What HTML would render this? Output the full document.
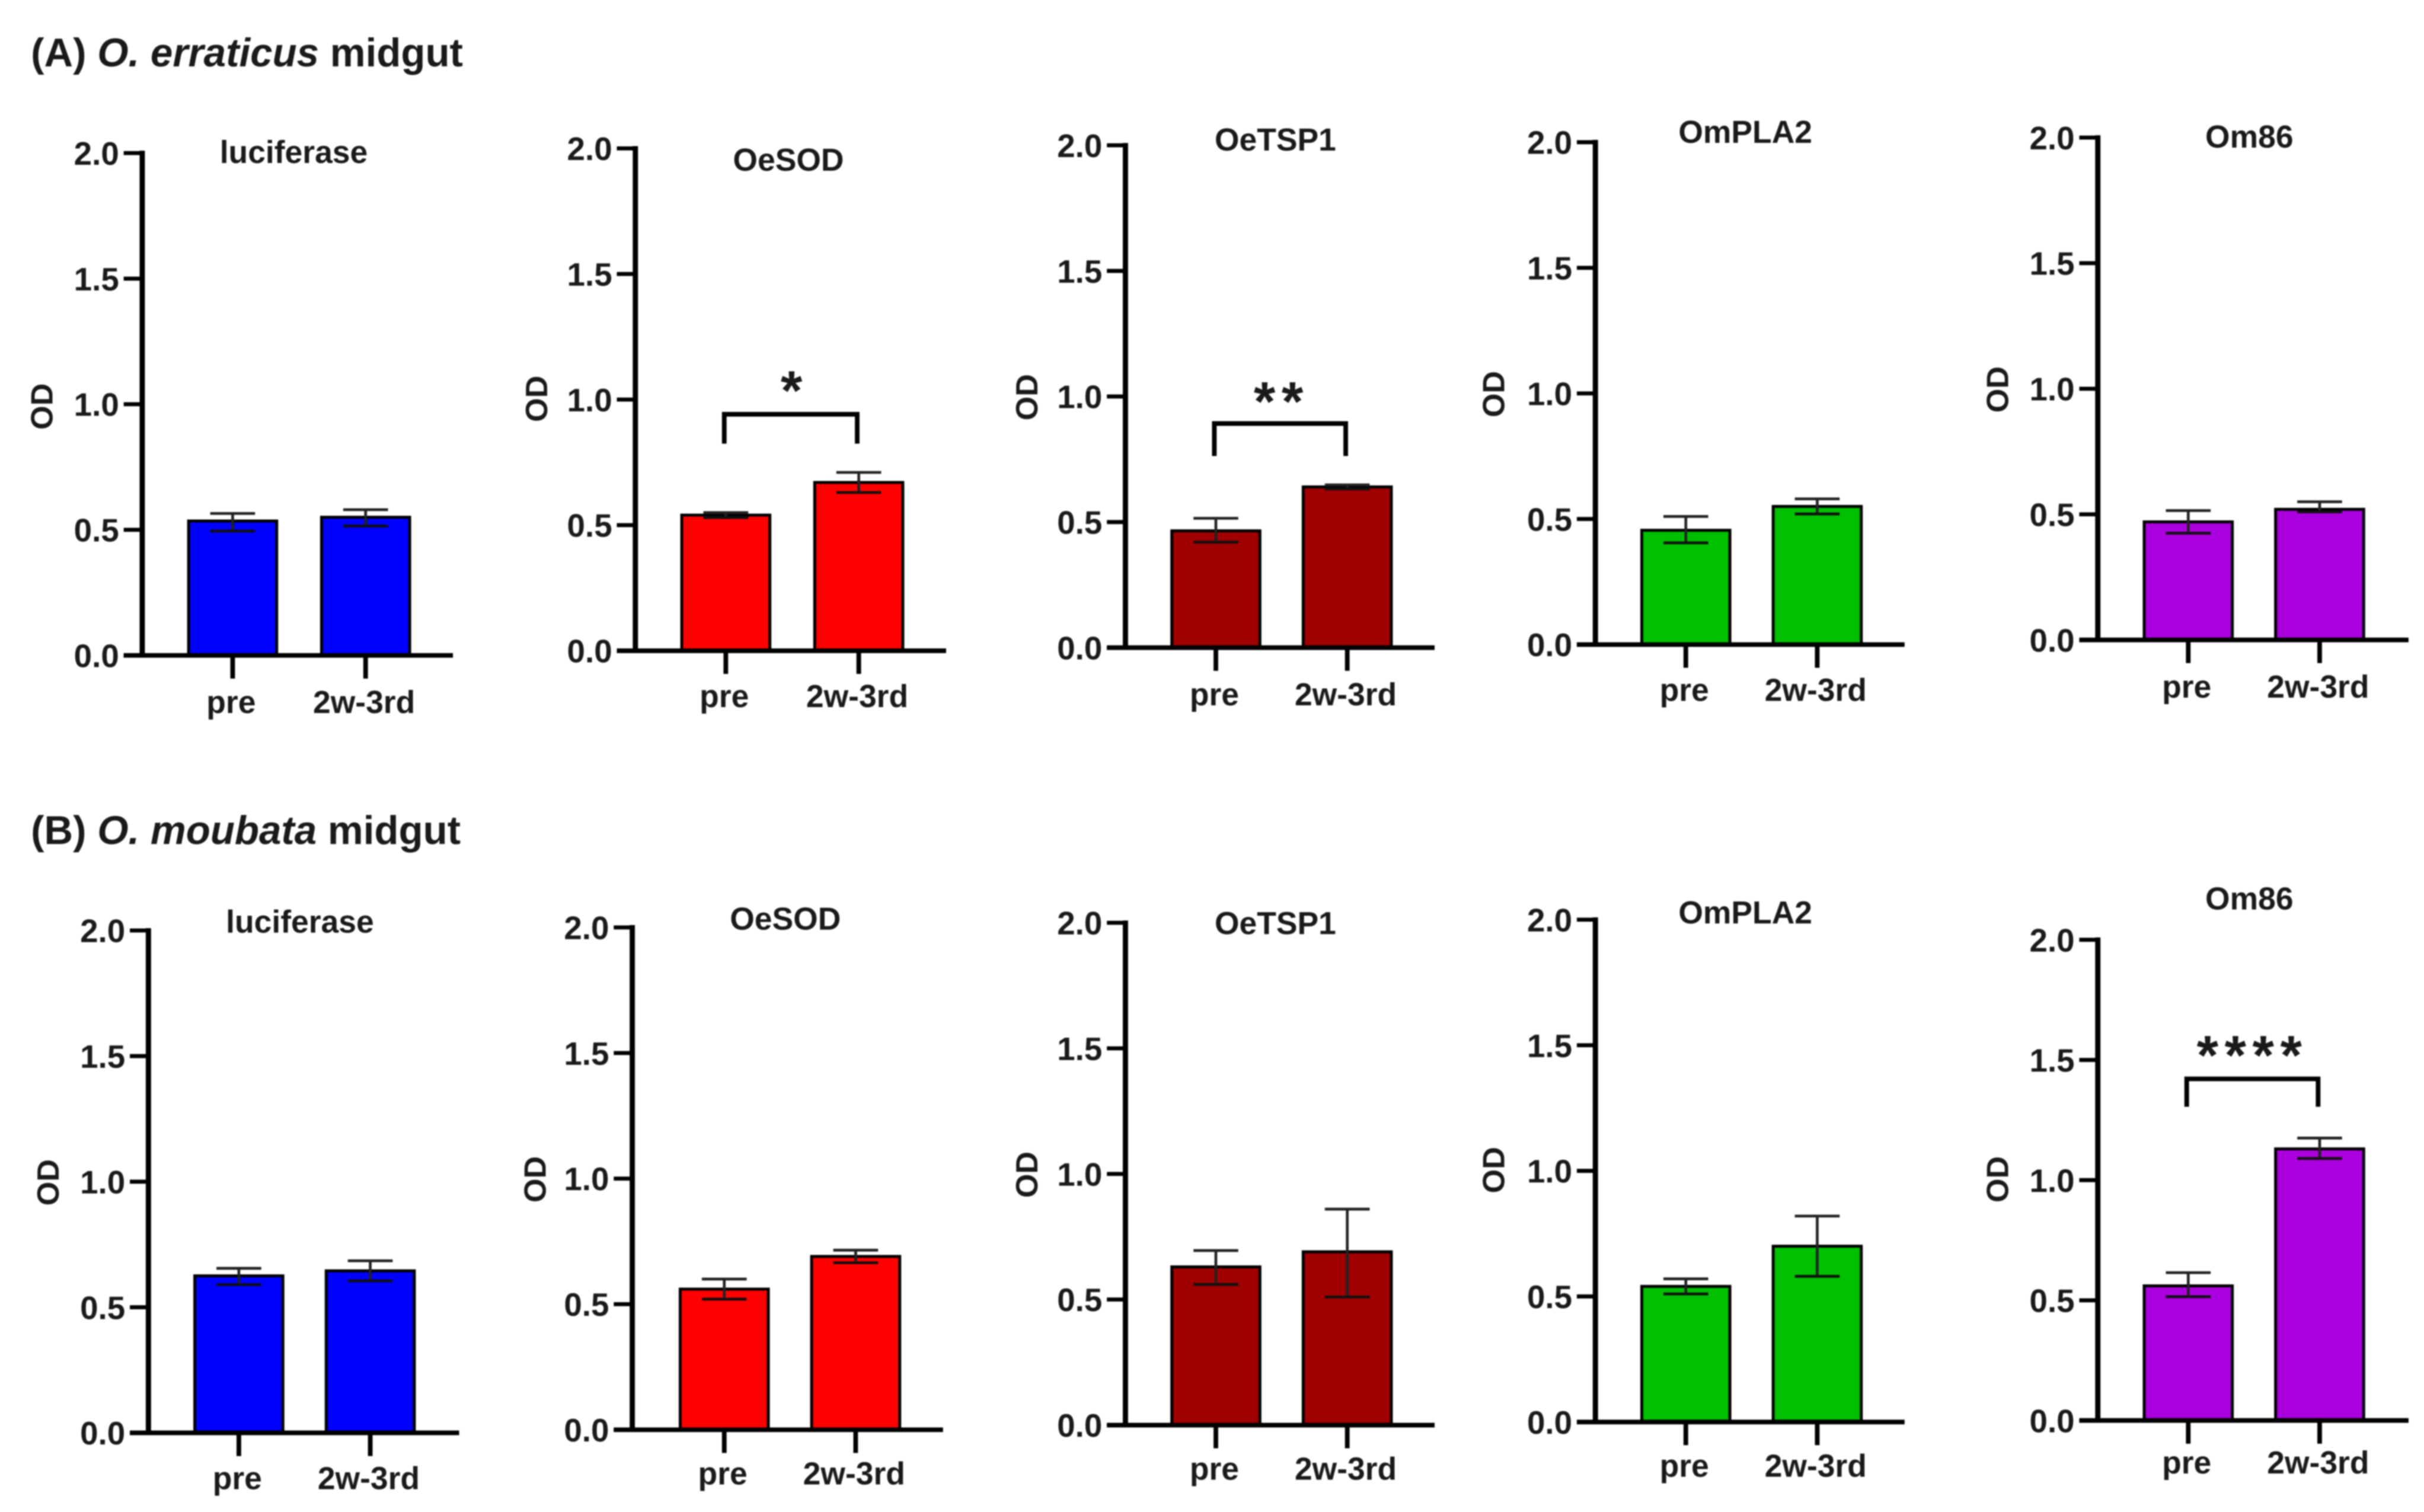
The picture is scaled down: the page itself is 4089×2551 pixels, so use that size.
<!DOCTYPE html>
<html lang="en">
<head>
<meta charset="utf-8">
<title>O. erraticus and O. moubata midgut OD charts</title>
<style>
html,body{margin:0;padding:0;background:#fff;width:4089px;height:2551px;overflow:hidden}
svg{display:block;filter:blur(1px)}
text{font-family:"Liberation Sans",sans-serif;font-weight:bold;fill:#1a1a1a}
</style>
</head>
<body>
<svg id="figure" xmlns="http://www.w3.org/2000/svg" width="4089" height="2551" viewBox="0 0 1568 978.2">
  <rect width="1568" height="978.2" fill="#fff"/>
  <text x="20" y="43" font-size="25.8" fill="#1a1a1a">(A) <tspan font-style="italic">O. erraticus</tspan> midgut</text>
  <text x="20" y="546" font-size="25.8" fill="#1a1a1a">(B) <tspan font-style="italic">O. moubata</tspan> midgut</text>
</svg>
<script>
// Data
const categories = ['pre', '2w-3rd'];
const yTickValues = [0, 0.5, 1, 1.5, 2];
const yTickLabels = ['0.0', '0.5', '1.0', '1.5', '2.0'];
const yMax = 2;
const panelTitles = ['luciferase', 'OeSOD', 'OeTSP1', 'OmPLA2', 'Om86',
                     'luciferase', 'OeSOD', 'OeTSP1', 'OmPLA2', 'Om86'];
const barValues = [[0.535, 0.55], [0.54, 0.67], [0.465, 0.64], [0.455, 0.55], [0.47, 0.52],
                   [0.625, 0.645], [0.56, 0.69], [0.63, 0.69], [0.54, 0.70], [0.56, 1.13]];
const errorUp = [[0.03, 0.03], [0.01, 0.04], [0.05, 0.008], [0.055, 0.03], [0.045, 0.03],
                 [0.03, 0.04], [0.04, 0.025], [0.065, 0.17], [0.03, 0.12], [0.055, 0.045]];
const errorDown = [[0.04, 0.035], [0.01, 0.04], [0.045, 0.008], [0.05, 0.03], [0.045, 0.01],
                   [0.035, 0.04], [0.04, 0.025], [0.07, 0.18], [0.03, 0.12], [0.045, 0.04]];
const significance = ['', '*', '**', '', '', '', '', '', '', '****'];
const barColors = ['#0000ff', '#ff0000', '#a00000', '#00c000', '#aa00dd'];

// Panel frame geometry: plot origin, axis extents, label offsets
const frames = [
  {ax:92, top:99, base:424, bar0:122, bar1:208, end:293, title:190, titleY:98, catY:454, odX:27, odY:263, br:268, brD:287, starX:512, starY:248},
  {ax:411, top:96, base:421, bar0:441, bar1:527, end:612, title:510, titleY:103, catY:450, odX:347, odY:258, br:268, brD:287, starX:512, starY:246},
  {ax:728, top:94, base:419, bar0:758, bar1:843, end:928, title:825, titleY:90, catY:449, odX:664, odY:257, br:274, brD:295, starX:829, starY:253},
  {ax:1032, top:92, base:417, bar0:1062, bar1:1147, end:1232, title:1129, titleY:85, catY:446, odX:966, odY:255},
  {ax:1357, top:89, base:414, bar0:1387, bar1:1472, end:1558, title:1455, titleY:88, catY:444, odX:1292, odY:252},
  {ax:96, top:602, base:927, bar0:126, bar1:211, end:297, title:194, titleY:596, catY:956, odX:31, odY:765},
  {ax:409, top:600, base:925, bar0:440, bar1:525, end:610, title:508, titleY:594, catY:953, odX:346, odY:763},
  {ax:728, top:597, base:922, bar0:758, bar1:843, end:928, title:825, titleY:597, catY:950, odX:664, odY:760},
  {ax:1032, top:595, base:920, bar0:1062, bar1:1147, end:1232, title:1129, titleY:590, catY:948, odX:966, odY:757},
  {ax:1357, top:608, base:919, bar0:1387, bar1:1472, end:1558, title:1455, titleY:581, catY:946, odX:1292, odY:763, br:698, brD:716, starX:1457, starY:676}
];
const BAR_W = 57, CAP_W = 29;

const svg = document.getElementById('figure');
const NS = 'http://www.w3.org/2000/svg';
function add(parent, tag, attrs, txt) {
  const el = document.createElementNS(NS, tag);
  for (const k in attrs) el.setAttribute(k, attrs[k]);
  if (txt !== undefined) el.textContent = txt;
  parent.appendChild(el);
  return el;
}
function textBox(parent, x, y, size, anchor, txt, extra) {
  return add(parent, 'text', Object.assign({x: x, y: y + size * 0.36, 'font-size': size, 'text-anchor': anchor}, extra || {}), txt);
}

frames.forEach(function (f, p) {
  const yScale = function (v) { return f.base - (v / yMax) * (f.base - f.top); };
  const color = barColors[p % 5];
  const g = add(svg, 'g', {});
  
  

  // bars + error bars
  categories.forEach(function (cat, i) {
    const bx = i === 0 ? f.bar0 : f.bar1;
    const cx = bx + BAR_W / 2;
    const v = barValues[p][i];
    const bar = add(g, 'rect', {x: bx, y: yScale(v), width: BAR_W, height: f.base - yScale(v), fill: color, stroke: '#000', 'stroke-width': 1.9});
    
    
    const hi = yScale(v + errorUp[p][i]);
    const lo = yScale(v - errorDown[p][i]);
    const stem = add(g, 'line', {x1: cx, x2: cx, y1: hi, y2: lo, stroke: '#222', 'stroke-width': 1.8});
    
    
    const capTop = add(g, 'line', {x1: cx - CAP_W / 2, x2: cx + CAP_W / 2, y1: hi, y2: hi, stroke: '#222', 'stroke-width': 1.8});
    
    
    const capBot = add(g, 'line', {x1: cx - CAP_W / 2, x2: cx + CAP_W / 2, y1: lo, y2: lo, stroke: '#111', 'stroke-width': 1.8});
    
    

    const tick = add(g, 'line', {x1: cx, x2: cx, y1: f.base, y2: f.base + 15, stroke: '#000', 'stroke-width': 3});
    
    
    const lab = textBox(g, cx - 1, f.catY, 20.5, 'middle', cat);
    
    
  });

  // axes
  const yAxis = add(g, 'line', {x1: f.ax, x2: f.ax, y1: f.top - 1.5, y2: f.base, stroke: '#000', 'stroke-width': 3.4});
  
  
  const xAxis = add(g, 'line', {x1: f.ax - 12, x2: f.end, y1: f.base, y2: f.base, stroke: '#000', 'stroke-width': 3});
  
  

  yTickValues.forEach(function (t, i) {
    const ty = yScale(t);
    const tick = add(g, 'line', {x1: f.ax - 12, x2: f.ax, y1: ty, y2: ty, stroke: '#000', 'stroke-width': 2.6});
    
    
    const lab = textBox(g, f.ax - 15, ty, 21, 'end', yTickLabels[i]);
    
    
  });

  // title + y axis title
  const ttl = textBox(g, f.title, f.titleY, 20.5, 'middle', panelTitles[p]);
  
  
  const od = add(g, 'text', {x: 0, y: 0, 'font-size': 20, 'text-anchor': 'middle', transform: 'translate(' + (f.odX + 7) + ' ' + f.odY + ') rotate(-90)'}, 'OD');
  
  

  // significance bracket
  if (significance[p]) {
    const c0 = f.bar0 + BAR_W / 2 - 1, c1 = f.bar1 + BAR_W / 2 - 1;
    const d = 'M' + c0 + ' ' + f.brD + 'V' + f.br + 'H' + c1 + 'V' + f.brD;
    const br = add(g, 'path', {d: d, fill: 'none', stroke: '#000', 'stroke-width': 3});
    
    
    const st = add(g, 'text', {x: f.starX, y: f.starY + 19, 'font-size': 36, 'text-anchor': 'middle', 'letter-spacing': significance[p].length > 1 ? 4 : 0}, significance[p]);
    
    
  }
});
</script>
</body>
</html>
